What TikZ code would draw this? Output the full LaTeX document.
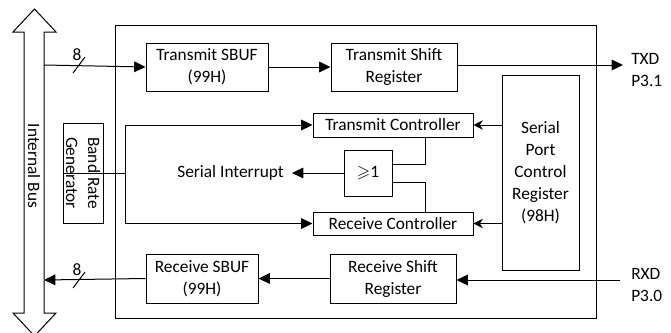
\documentclass[tikz,border=0pt]{standalone}
\usepackage{amssymb}
\usepackage{fontspec}
\setmainfont{Carlito}
\usetikzlibrary{arrows.meta}
\begin{document}
\begin{tikzpicture}[x=0.75pt,y=-0.75pt,
  every node/.style={font=\fontsize{13pt}{16.5pt}\selectfont, inner sep=0pt},
  blk/.style={draw, line width=0.75pt, align=center},
  ln/.style={line width=0.75pt},
  arr/.style={line width=0.75pt, -{Triangle[length=8.5pt,width=8pt]}},
  sarr/.style={line width=0.75pt, -{Stealth[length=7pt,width=7pt]}}]
\useasboundingbox (0,0) rectangle (671,332);
% internal bus double arrow
\draw[line width=0.75pt] (24,32) -- (13,32) -- (34.5,9) -- (56,32) -- (44,32)
  -- (44,313) -- (56,313) -- (34.5,336) -- (13,313) -- (24,313) -- cycle;
\node[rotate=-90] (bus) at (34,166) {Internal Bus};
\coordinate (busT) at (44,65);
\coordinate (busR) at (44,280);
% outer box
\draw[ln] (115,25) rectangle (596,318);
% blocks
\node[blk, minimum width=122*0.75pt, minimum height=48*0.75pt] (tsbuf) at (207,67) {Transmit SBUF\\(99H)};
\node[blk, minimum width=126*0.75pt, minimum height=48*0.75pt] (tsr) at (394,67) {Transmit Shift\\Register};
\node[blk, minimum width=160*0.75pt, minimum height=24*0.75pt] (tc) at (393,125) {Transmit Controller};
\node[blk, minimum width=160*0.75pt, minimum height=23*0.75pt] (rc) at (393,223.5) {Receive Controller};
\node[blk, minimum width=48*0.75pt, minimum height=46*0.75pt] (orr) at (368,173) {$\geqslant$1};
\node[blk, minimum width=77*0.75pt, minimum height=195*0.75pt] (spcr) at (540.5,172.5) {Serial\\Port\\Control\\Register\\(98H)};
\node[blk, rotate=-90, minimum width=100*0.75pt, minimum height=40*0.75pt] (brg) at (83,173) {Band Rate\\Generator};
\node[blk, minimum width=112*0.75pt, minimum height=49*0.75pt] (rsbuf) at (202,278.5) {Receive SBUF\\(99H)};
\node[blk, minimum width=126*0.75pt, minimum height=49*0.75pt] (rsr) at (393,278.5) {Receive Shift\\Register};
\node[anchor=east] (si) at (284,173) {Serial Interrupt};
\node[align=left, anchor=west] (txd) at (631,70) {TXD\\P3.1};
\node[align=left, anchor=west] (rxd) at (631,285) {RXD\\P3.0};
\coordinate (txdE) at (623,65);
\coordinate (rxdS) at (620,280);
% data path
\draw[arr] (busT) -- (tsbuf.west);
\draw[arr] (tsbuf.east) -- (tsr.west);
\draw[arr] (tsr.east |- txdE) -- (txdE);
\draw[arr] (rxdS) -- (rsr.east |- rxdS);
\draw[arr] (rsr.west) -- (rsbuf.east);
\draw[arr] (rsbuf.west) -- (busR);
% bus width marks
\draw[ln] (73,73) -- (85,57);
\node (b1) at (77,55) {8};
\draw[ln] (73,288) -- (85,272);
\node (b2) at (77,270) {8};
% baud rate generator
\coordinate (j) at (125,173);
\draw[ln] (brg.south) -- (j);
\draw[ln] (125,125) -- (125,223.5);
\draw[arr] (125,125) -- (tc.west);
\draw[arr] (125,223.5) -- (rc.west);
% control register
\draw[sarr] (spcr.west |- tc.east) -- (tc.east);
\draw[sarr] (spcr.west |- rc.east) -- (rc.east);
% OR gate
\draw[ln] (425,137) |- (orr.east |- 0,164);
\draw[ln] (orr.east |- 0,182) -| (425,212);
\draw[arr] (orr.west) -- (292,173);
\end{tikzpicture}
\end{document}
